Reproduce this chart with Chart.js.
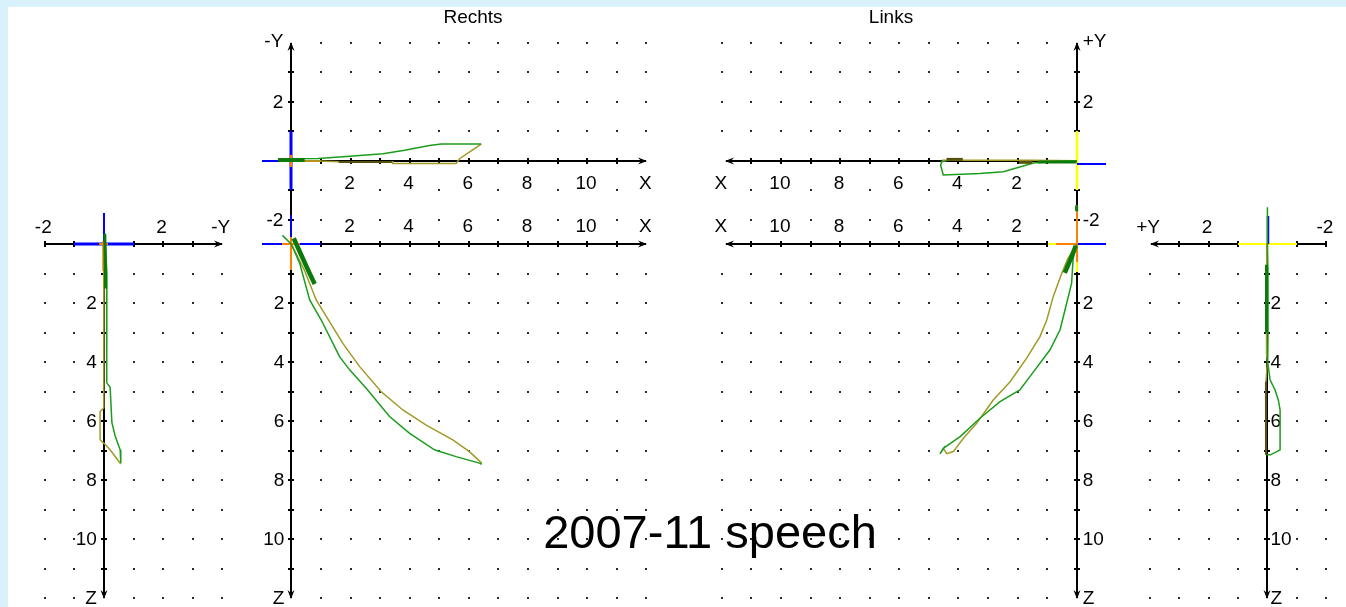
<!DOCTYPE html>
<html><head><meta charset="utf-8">
<script src="https://cdn.jsdelivr.net/npm/chart.js@4"></script>
<style>
html,body{margin:0;padding:0;}
body{width:1346px;height:607px;background:#d9f1fb;position:relative;overflow:hidden;font-family:"Liberation Sans",Arial,sans-serif;}
#sheet{position:absolute;left:8px;top:7px;right:0;bottom:0;background:#fff;}
canvas{position:absolute;}
.t{position:absolute;color:#000;white-space:nowrap;text-align:center;}
</style></head><body>
<div id="sheet"></div>
<script>
// ---------- data (horizontal value, vertical value) ----------
// Rechts side view (-Y to the right, Z down)
const sideRGreen = [[0.03,-0.35],[0.07,0.3],[0.1,1.0],[0.1,1.9],[0.1,3.0],[0.08,3.15],[0.1,4.7],[0.21,4.85],[0.27,6.05],[0.38,6.5],[0.55,6.97],[0.57,7.42]];
const sideROlive = [[0,0],[-0.01,1.0],[-0.01,3.0],[0,3.5],[0,5.55],[-0.13,5.67],[-0.13,6.63],[0,6.75],[0.21,6.97],[0.57,7.45]];
const sideRDark  = [[0.03,-0.35],[0.06,1.5]];
// Rechts top view (X right, -Y up)
const rechtsTopGreen = [[-0.4,0.07],[0.9,0.08],[1.86,0.15],[3.1,0.24],[3.83,0.36],[4.67,0.52],[5.07,0.57],[6.42,0.57]];
const rechtsTopOlive = [[6.42,0.57],[6.02,0.3],[5.7,0.08],[5.57,-0.09],[3.43,-0.09],[3.43,-0.03],[1.69,-0.03],[0.6,0.0],[0,0]];
const rechtsTopDark  = [[-0.45,0.03],[0.45,0.03]];
const rechtsTopDarkOlive = [[1.6,-0.04],[3.4,-0.04]];
// Rechts front view (X right, Z down)
const rechtsBotGreen = [[-0.3,-0.3],[0,0],[0.28,0.64],[0.62,1.89],[1.01,2.57],[1.63,3.81],[1.97,4.26],[2.53,4.88],[3.32,5.84],[4.0,6.41],[4.84,6.97],[5.57,7.2],[6.36,7.42],[6.44,7.46]];
const rechtsBotOlive = [[6.44,7.42],[6.02,7.03],[5.46,6.63],[4.56,6.13],[3.77,5.62],[3.04,5.0],[2.31,4.15],[1.74,3.36],[0.84,1.89],[0.45,0.9],[0.1,0.2],[0,0]];
const rechtsBotDark  = [[0.08,-0.2],[0.35,0.4],[0.6,0.95],[0.79,1.35]];
// Links top view (X left, +Y up)
const linksTopGreen = [[0,0],[0.8,-0.02],[1.46,-0.07],[2.48,-0.37],[3.27,-0.43],[4.51,-0.48],[4.6,-0.15],[4.56,-0.03],[4.4,0.0]];
const linksTopOlive = [[4.56,0.02],[3.5,0.02],[1.5,0.02],[0,0]];
const linksTopDark  = [[0,-0.04],[1.3,-0.04]];
const linksTopDarkOliveA = [[3.85,0.05],[4.4,0.05]];
const linksTopDarkOliveB = [[1.5,-0.05],[1.95,-0.05]];
// Links front view (X left, Z down)
const linksBotGreen = [[0,0],[0.12,0.5],[0.17,1.32],[0.3,1.85],[0.56,2.9],[0.9,3.58],[1.41,4.26],[1.92,4.94],[2.59,5.34],[3.27,5.9],[3.94,6.52],[4.51,6.92],[4.62,7.11],[4.45,6.85]];
const linksBotOlive = [[0,0],[0.3,0.5],[0.5,0.98],[0.79,1.77],[1.01,2.57],[1.24,3.13],[1.69,3.86],[2.25,4.66],[2.82,5.28],[3.38,6.07],[3.83,6.58],[4.17,7.03],[4.39,7.1],[4.51,6.92]];
const linksBotDark  = [[0.03,0.05],[0.2,0.5],[0.4,0.97]];
const linksBotDarkTop = [[0,-1.32],[0,-1.12]];
// Links side view (+Y to the left, Z down)
const sideLGreen = [[0.0,-1.25],[0.0,0],[-0.02,1],[-0.02,3],[-0.01,4.0],[-0.09,4.6],[-0.26,4.94],[-0.37,5.28],[-0.43,5.62],[-0.43,6.97],[-0.32,7.03],[-0.1,7.14],[0.02,7.14]];
const sideLOlive = [[0,0],[0.03,1.0],[0.03,3.7],[0,4.0],[0.05,4.66],[0.05,7.14]];
const sideLDark  = [[0.03,0.7],[0.03,3.0]];
const sideLDarkOlive = [[0.05,4.66],[0.05,7.14]];

// ---------- tick labels ----------
const xTickValues = [2,4,6,8,10,12];
const xTickLabels = ['2','4','6','8','10','X'];
const zTickValues = [2,4,6,8,10,12];
const zTickLabels = ['2','4','6','8','10','Z'];
const yTickValues = [4,2,-2];
const yTickLabelsR = ['-Y','2','-2'];
const yTickLabelsL = ['+Y','2','-2'];
const sideRValues = [-2,2,4];
const sideRLabels = ['-2','2','-Y'];
const sideLValues = [4,2,-2];
const sideLLabels = ['+Y','2','-2'];
const titles = ['Rechts','Links'];
const caption = '2007-11 speech';

// ---------- styles ----------
const BLUE='#0000ff', YELLOW='#ffff00', ORANGE='#ff8000';
const GREEN='#1c9c1c', OLIVE='#a09a26', DARK='#0a7a0a', DARKOLIVE='#56520e';
const LW=1.5;
const ints=(a,b)=>{const r=[];for(let i=a;i<=b;i++)r.push(i);return r;};
const lab=(vals,texts,fn)=>vals.map((v,i)=>Object.assign({text:texts[i]},fn(v)));

const panels = [
 { ox:103.7, oy:244.3, ux:29.6, uy:29.5, h:[-2.6,4.6], v:[-1.6,12.4], hRev:false, vDown:true,
   dotH:[-2,-1,1,2,3,4], dotV:ints(1,12),
   axes:[{dir:'h',from:-2,to:4,ticks:[-2,-1,1,2,3],arrow:true},{dir:'v',from:0,to:12,ticks:ints(1,11),arrow:true}],
   labels:[...lab(sideRValues,sideRLabels,v=>({h:v,v:0,align:'center',dx:-1.5,dy:-17.5})),
           ...lab(zTickValues,zTickLabels,v=>({h:0,v:v,align:'right',dx:-7,dy:0}))],
   marks:[[-1,0,1,0,BLUE,3],[0,-1.05,0,0,BLUE,2],[-0.03,-0.1,-0.03,0.9,ORANGE,1.5],[-0.15,0,0.15,0,ORANGE,2]],
   series:[{data:sideRDark,color:DARK,width:3},{data:sideRGreen,color:GREEN,width:LW},{data:sideROlive,color:OLIVE,width:LW}] },
 { ox:291.7, oy:160.7, ux:29.6, uy:29.5, h:[-1.5,12.5], v:[-2.95,4.6], hRev:false, vDown:false,
   dotH:ints(1,12), dotV:[4,3,2,1,-1,-2],
   axes:[{dir:'h',from:0,to:12,ticks:ints(1,11),arrow:true},{dir:'v',from:-2.834,to:4,ticks:[3,2,1,-1,-2],arrow:true}],
   labels:[...lab(xTickValues,xTickLabels,v=>({h:v,v:0,align:'center',dx:-1,dy:21.5})),
           ...lab(yTickValues,yTickLabelsR,v=>({h:0,v:v,align:'right',dx:-8,dy:v===4?-1.5:0}))],
   marks:[[-1,0,0,0,BLUE,2],[0,1,0,-1,BLUE,3],[0,0,1,0,ORANGE,2],[0,-0.2,0,0.2,ORANGE,2]],
   series:[{data:rechtsTopDark,color:DARK,width:4},{data:rechtsTopDarkOlive,color:DARKOLIVE,width:2},{data:rechtsTopGreen,color:GREEN,width:LW},{data:rechtsTopOlive,color:OLIVE,width:LW}] },
 { ox:291.7, oy:244.3, ux:29.6, uy:29.5, h:[-1.5,12.5], v:[-1.6,12.4], hRev:false, vDown:true,
   dotH:ints(1,12), dotV:ints(1,12),
   axes:[{dir:'h',from:0,to:12,ticks:ints(1,11),arrow:true},{dir:'v',from:0,to:12,ticks:ints(1,11),arrow:true}],
   labels:[...lab(xTickValues,xTickLabels,v=>({h:v,v:0,align:'center',dx:-1,dy:-18.5})),
           ...lab(zTickValues,zTickLabels,v=>({h:0,v:v,align:'right',dx:-7,dy:0}))],
   marks:[[-1,0,1,0,BLUE,2],[0,-1,0,0.65,BLUE,2],[0,-0.26,0,0.87,ORANGE,2],[-0.3,0,0.3,0,ORANGE,2]],
   series:[{data:rechtsBotDark,color:DARK,width:4.5},{data:rechtsBotGreen,color:GREEN,width:LW},{data:rechtsBotOlive,color:OLIVE,width:LW}] },
 { ox:1077, oy:160.7, ux:29.6, uy:29.5, h:[-1.5,12.5], v:[-2.95,4.6], hRev:true, vDown:false,
   dotH:ints(1,12), dotV:[4,3,2,1,-1,-2],
   axes:[{dir:'h',from:0,to:11.85,ticks:ints(1,11),arrow:true},{dir:'v',from:-2.834,to:4,ticks:[3,2,1,-1,-2],arrow:true}],
   labels:[...lab(xTickValues,xTickLabels,v=>({h:v,v:0,align:'center',dx:-1,dy:21.5})),
           ...lab(yTickValues,yTickLabelsL,v=>({h:0,v:v,align:'left',dx:6,dy:v===4?-1.5:0}))],
   marks:[[0,1,0,-1,YELLOW,2.5],[0,-0.11,-1,-0.11,BLUE,2],[0,0,1.3,0,ORANGE,2]],
   series:[{data:linksTopDark,color:DARK,width:3},{data:linksTopDarkOliveA,color:DARKOLIVE,width:3},{data:linksTopDarkOliveB,color:DARKOLIVE,width:3},{data:linksTopGreen,color:GREEN,width:LW},{data:linksTopOlive,color:OLIVE,width:LW}] },
 { ox:1077, oy:244.3, ux:29.6, uy:29.5, h:[-1.5,12.5], v:[-1.6,12.4], hRev:true, vDown:true,
   dotH:ints(1,12), dotV:ints(1,12),
   axes:[{dir:'h',from:0,to:11.85,ticks:ints(1,11),arrow:true},{dir:'v',from:0,to:12,ticks:ints(1,11),arrow:true}],
   labels:[...lab(xTickValues,xTickLabels,v=>({h:v,v:0,align:'center',dx:-1,dy:-18.5})),
           ...lab(zTickValues,zTickLabels,v=>({h:0,v:v,align:'left',dx:6,dy:0}))],
   marks:[[0,0,-1,0,BLUE,2],[0,0,0.69,0,ORANGE,2],[0.69,0,0.97,0,YELLOW,2],[0,-1.33,0,0.59,ORANGE,2],[0,0.59,0,0.93,YELLOW,2]],
   series:[{data:linksBotDark,color:DARK,width:4.5},{data:linksBotDarkTop,color:DARK,width:3},{data:linksBotGreen,color:GREEN,width:LW},{data:linksBotOlive,color:OLIVE,width:LW}] },
 { ox:1267.3, oy:244.3, ux:29.4, uy:29.5, h:[-2.6,4.7], v:[-1.6,12.4], hRev:true, vDown:true,
   dotH:[4,3,2,1,-1,-2], dotV:ints(1,12),
   axes:[{dir:'h',from:-2,to:3.95,ticks:[-2,-1,1,2,3],arrow:true},{dir:'v',from:0,to:12,ticks:ints(1,11),arrow:true}],
   labels:[...lab(sideLValues,sideLLabels,v=>({h:v,v:0,align:'center',dx:-1.5,dy:-17.5})),
           ...lab(zTickValues,zTickLabels,v=>({h:0,v:v,align:'left',dx:3,dy:0}))],
   marks:[[1,0,-1,0,YELLOW,2],[-0.03,-0.95,-0.03,0,BLUE,2.5],[0,0,0,1.0,ORANGE,2]],
   series:[{data:sideLDark,color:DARK,width:3},{data:sideLDarkOlive,color:DARKOLIVE,width:2},{data:sideLGreen,color:GREEN,width:LW},{data:sideLOlive,color:OLIVE,width:LW}] }
];

function decorPlugin(p){
 return {id:'decor', beforeDatasetsDraw(chart){
  const ctx=chart.ctx, sx=chart.scales.x, sy=chart.scales.y;
  const P=(h,v)=>[sx.getPixelForValue(h), sy.getPixelForValue(v)];
  const R=(h,v)=>{const q=P(h,v);return [Math.round(q[0]),Math.round(q[1])];};
  ctx.save();
  ctx.fillStyle='#2a2a2a';
  p.dotH.forEach(h=>p.dotV.forEach(v=>{const [x,y]=R(h,v); ctx.fillRect(x-1,y-1,2,2);}));
  ctx.font='19px "Liberation Sans", Arial, sans-serif';
  ctx.textBaseline='middle'; ctx.textAlign='left';
  p.labels.forEach(L=>{
    const [x,y]=P(L.h,L.v); const px=x+L.dx, py=y+L.dy;
    const w=ctx.measureText(L.text).width;
    const lx = L.align==='center'?px-w/2:(L.align==='right'?px-w:px);
    ctx.fillStyle='#fff'; ctx.fillRect(lx,py-8,w,17);
    ctx.fillStyle='#000'; ctx.fillText(L.text,lx,py+1);
  });
  ctx.strokeStyle='#000'; ctx.fillStyle='#000'; ctx.lineWidth=2;
  p.axes.forEach(a=>{
    const A = a.dir==='h'?R(a.from,0):R(0,a.from);
    const B = a.dir==='h'?R(a.to,0):R(0,a.to);
    ctx.beginPath(); ctx.moveTo(A[0],A[1]); ctx.lineTo(B[0],B[1]); ctx.stroke();
    a.ticks.forEach(t=>{const [x,y]= a.dir==='h'?R(t,0):R(0,t); ctx.beginPath();
      if(a.dir==='h'){ctx.moveTo(x,y-3);ctx.lineTo(x,y+3);} else {ctx.moveTo(x-3,y);ctx.lineTo(x+3,y);} ctx.stroke();});
    if(a.arrow){
      const dx=B[0]-A[0], dy=B[1]-A[1], len=Math.hypot(dx,dy), ux=dx/len, uy=dy/len;
      ctx.beginPath(); ctx.moveTo(B[0]+ux,B[1]+uy);
      ctx.lineTo(B[0]-ux*8-uy*3.5, B[1]-uy*8+ux*3.5);
      ctx.lineTo(B[0]-ux*5, B[1]-uy*5);
      ctx.lineTo(B[0]-ux*8+uy*3.5, B[1]-uy*8-ux*3.5);
      ctx.closePath(); ctx.fill();
    }
  });
  p.marks.forEach(m=>{const [x1,y1]=R(m[0],m[1]), [x2,y2]=R(m[2],m[3]);
    ctx.strokeStyle=m[4]; ctx.lineWidth=m[5]; ctx.beginPath(); ctx.moveTo(x1,y1); ctx.lineTo(x2,y2); ctx.stroke();});
  ctx.restore();
 }};
}

panels.forEach(p=>{
  const c=document.createElement('canvas');
  const W=Math.round((p.h[1]-p.h[0])*p.ux), H=Math.round((p.v[1]-p.v[0])*p.uy);
  c.width=W; c.height=H;
  const left = p.hRev ? p.ox - p.h[1]*p.ux : p.ox + p.h[0]*p.ux;
  const top  = p.vDown ? p.oy + p.v[0]*p.uy : p.oy - p.v[1]*p.uy;
  c.style.left=Math.round(left)+'px'; c.style.top=Math.round(top)+'px';
  document.body.appendChild(c);
  new Chart(c,{
    type:'scatter',
    data:{datasets:p.series.map(s=>({data:s.data.map(([x,y])=>({x,y})),borderColor:s.color,backgroundColor:s.color,borderWidth:s.width,showLine:true,pointRadius:0,fill:false,tension:0}))},
    options:{responsive:false,animation:false,events:[],layout:{padding:0},
      plugins:{legend:{display:false},tooltip:{enabled:false},title:{display:false}},
      scales:{x:{type:'linear',display:false,min:p.h[0],max:p.h[1],reverse:p.hRev},
              y:{type:'linear',display:false,min:p.v[0],max:p.v[1],reverse:p.vDown}}},
    plugins:[decorPlugin(p)]
  });
});

// titles and caption as real text
const mk=(text,css)=>{const d=document.createElement('div');d.className='t';d.textContent=text;d.style.cssText+=css;document.body.appendChild(d);};
mk(titles[0],'left:423px;top:7px;width:100px;font-size:19px;line-height:19px;');
mk(titles[1],'left:841px;top:7px;width:100px;font-size:19px;line-height:19px;');
mk(caption,'left:510px;top:508px;width:400px;font-size:47px;line-height:47px;');
</script>
</body></html>
